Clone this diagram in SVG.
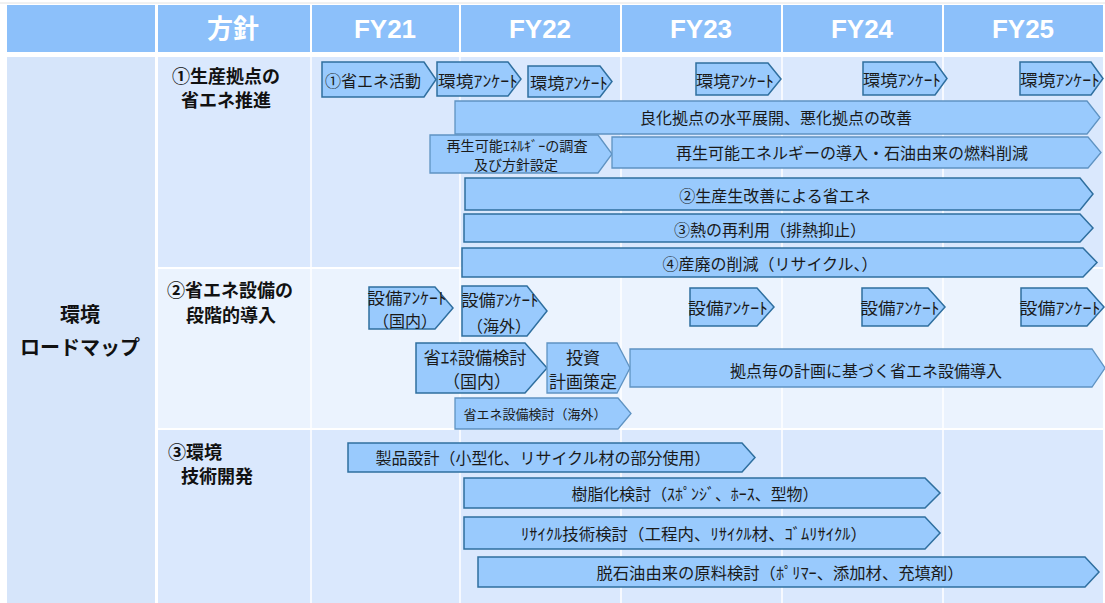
<svg xmlns="http://www.w3.org/2000/svg" width="1105" height="603" viewBox="0 0 1105 603">
<style>
.hd{fill:#8CC0FA}
.r1{fill:#DAE8FD}
.r2{fill:#EBF3FE}
.gl{stroke:#FFFFFF;stroke-width:1.5}
.ar{fill:#99CAFD;stroke:#2F6F9F;stroke-width:1.5}
.al{fill:#99CAFD;stroke:#5F93C2;stroke-width:1.3}
.ht{font-family:"Liberation Sans","Noto Sans CJK JP",sans-serif;font-weight:bold;font-size:26px;fill:#FFFFFF;text-anchor:middle;dominant-baseline:central}
.lb{font-family:"Noto Sans CJK JP","Liberation Sans",sans-serif;font-weight:bold;font-size:18px;fill:#111111}
.big{font-size:20px;text-anchor:middle;dominant-baseline:central}
.t{font-family:"Noto Sans CJK JP","Liberation Sans",sans-serif;font-size:16px;fill:#1A1A1A;text-anchor:middle;dominant-baseline:central}
.s{font-size:14px}
.m{font-size:17px}
.xs{font-size:13px}
</style>
<rect x="0" y="0" width="1105" height="603" fill="#FFFFFF"/>
<line x1="0" y1="3" x2="1105" y2="3" stroke="#E2E2E2" stroke-width="1"/>
<g id="header">
<rect class="hd" x="7" y="5" width="148" height="47"/>
<rect class="hd" x="158" y="5" width="152" height="47"/>
<rect class="hd" x="312" y="5" width="147" height="47"/>
<rect class="hd" x="461" y="5" width="159" height="47"/>
<rect class="hd" x="622" y="5" width="159" height="47"/>
<rect class="hd" x="783" y="5" width="159" height="47"/>
<rect class="hd" x="944" y="5" width="159" height="47"/>
<text class="ht" x="233" y="29">方針</text>
<text class="ht" x="385" y="29">FY21</text>
<text class="ht" x="540" y="29">FY22</text>
<text class="ht" x="701" y="29">FY23</text>
<text class="ht" x="862" y="29">FY24</text>
<text class="ht" x="1023" y="29">FY25</text>
</g>
<g id="body">
<rect x="7" y="57" width="148" height="546" fill="#D6E5FA"/>
<rect class="r1" x="158" y="57" width="945" height="210"/>
<rect class="r2" x="158" y="269" width="945" height="159"/>
<rect class="r1" x="158" y="430" width="945" height="173"/>
<line class="gl" x1="311" y1="57" x2="311" y2="603"/>
<line class="gl" x1="460" y1="57" x2="460" y2="603"/>
<line class="gl" x1="621" y1="57" x2="621" y2="603"/>
<line class="gl" x1="782" y1="57" x2="782" y2="603"/>
<line class="gl" x1="943" y1="57" x2="943" y2="603"/>
</g>
<g id="left-label">
<text class="lb big" x="80" y="313">環境</text>
<text class="lb big" x="80" y="346">ロードマップ</text>
</g>
<g id="row-labels">
<text class="lb" x="226" y="75" text-anchor="middle" dominant-baseline="central">①生産拠点の</text>
<text class="lb" x="226" y="99" text-anchor="middle" dominant-baseline="central">省エネ推進</text>
<text class="lb" x="230" y="289" text-anchor="middle" dominant-baseline="central">②省エネ設備の</text>
<text class="lb" x="231" y="314" text-anchor="middle" dominant-baseline="central">段階的導入</text>
<text class="lb" x="168" y="451" dominant-baseline="central">③環境</text>
<text class="lb" x="181" y="475" dominant-baseline="central">技術開発</text>
</g>
<g id="connectors"></g>
<g id="n1"><polygon class="ar" points="322,62 424,62 436,79.5 424,97 322,97"/><text class="t" x="373" y="80">①省エネ活動</text></g>
<g id="n2"><polygon class="ar" points="437,62 508,62 521,79 508,96 437,96"/><text class="t" x="478" y="80" textLength="80" lengthAdjust="spacingAndGlyphs">環境ｱﾝｹｰﾄ</text></g>
<g id="n3"><polygon class="ar" points="528,66 600,66 612,81.5 600,97 528,97"/><text class="t" x="569" y="82" textLength="78" lengthAdjust="spacingAndGlyphs">環境ｱﾝｹｰﾄ</text></g>
<g id="n4"><polygon class="ar" points="696,63 768,63 781,79 768,95 696,95"/><text class="t" x="735" y="80" textLength="78" lengthAdjust="spacingAndGlyphs">環境ｱﾝｹｰﾄ</text></g>
<g id="n5"><polygon class="ar" points="863,62 935,62 947,78.5 935,95 863,95"/><text class="t" x="902" y="79" textLength="78" lengthAdjust="spacingAndGlyphs">環境ｱﾝｹｰﾄ</text></g>
<g id="n6"><polygon class="ar" points="1020,62 1091,62 1103,78.5 1091,95 1020,95"/><text class="t" x="1060" y="79" textLength="80" lengthAdjust="spacingAndGlyphs">環境ｱﾝｹｰﾄ</text></g>
<g id="n7"><polygon class="al" points="455,101 1087,101 1100,117.5 1087,134 455,134"/><text class="t" x="776" y="117">良化拠点の水平展開、悪化拠点の改善</text></g>
<g id="n8"><polygon class="al" points="430,135 598,135 612,154 598,173 430,173"/><text class="t s" x="517" y="145" textLength="141" lengthAdjust="spacingAndGlyphs">再生可能ｴﾈﾙｷﾞｰの調査</text><text class="t s" x="516" y="164">及び方針設定</text></g>
<g id="n9"><polygon class="al" points="612,137 1088,137 1101,152.5 1088,168 612,168"/><text class="t" x="852" y="152">再生可能エネルギーの導入・石油由来の燃料削減</text></g>
<g id="n10"><polygon class="ar" points="465,178 1080,178 1093,194 1080,210 465,210"/><text class="t" x="775" y="195">②生産生改善による省エネ</text></g>
<g id="n11"><polygon class="ar" points="464,214 1080,214 1093,228 1080,242 464,242"/><text class="t" x="770" y="229">③熱の再利用（排熱抑止）</text></g>
<g id="n12"><polygon class="ar" points="462,248 1083,248 1097,262.5 1083,277 462,277"/><text class="t" x="770" y="263">④産廃の削減（リサイクル、）</text></g>
<g id="n13"><polygon class="ar" points="369,287 435,287 453,308 435,329 369,329"/><text class="t" x="407" y="297" textLength="79" lengthAdjust="spacingAndGlyphs">設備ｱﾝｹｰﾄ</text><text class="t" x="405" y="320">（国内）</text></g>
<g id="n14"><polygon class="ar" points="462,286 527,286 547,311 527,336 462,336"/><text class="t" x="500" y="299" textLength="77" lengthAdjust="spacingAndGlyphs">設備ｱﾝｹｰﾄ</text><text class="t" x="499" y="325">（海外）</text></g>
<g id="n15"><polygon class="ar" points="690,288 757,288 774,307 757,326 690,326"/><text class="t" x="728" y="307" textLength="80" lengthAdjust="spacingAndGlyphs">設備ｱﾝｹｰﾄ</text></g>
<g id="n16"><polygon class="ar" points="862,288 928,288 945,307 928,326 862,326"/><text class="t" x="900" y="307" textLength="79" lengthAdjust="spacingAndGlyphs">設備ｱﾝｹｰﾄ</text></g>
<g id="n17"><polygon class="ar" points="1021,288 1087,288 1104,307 1087,326 1021,326"/><text class="t" x="1060" y="307" textLength="81" lengthAdjust="spacingAndGlyphs">設備ｱﾝｹｰﾄ</text></g>
<g id="n18"><polygon class="ar" points="416,343 525,343 547,368 525,393 416,393"/><text class="t m" x="475" y="356" textLength="103" lengthAdjust="spacingAndGlyphs">省ｴﾈ設備検討</text><text class="t m" x="477" y="380">（国内）</text></g>
<g id="n19"><polygon class="al" points="547,343 617,343 630,368 617,393 547,393"/><text class="t m" x="583" y="356">投資</text><text class="t m" x="583" y="380">計画策定</text></g>
<g id="n20"><polygon class="al" points="630,349 1092,349 1105,368 1092,387 630,387"/><text class="t" x="866" y="370">拠点毎の計画に基づく省エネ設備導入</text></g>
<g id="n21"><polygon class="al" points="455,398 618,398 631,413.5 618,429 455,429"/><text class="t xs" x="535" y="413">省エネ設備検討（海外）</text></g>
<g id="n22"><polygon class="ar" points="348,443 742,443 755,457.5 742,472 348,472"/><text class="t" x="543" y="457">製品設計（小型化、リサイクル材の部分使用）</text></g>
<g id="n23"><polygon class="ar" points="464,478 925,478 940,493 925,508 464,508"/><text class="t" x="695" y="493" textLength="247" lengthAdjust="spacingAndGlyphs">樹脂化検討（ｽﾎﾟﾝｼﾞ、ﾎｰｽ、型物）</text></g>
<g id="n24"><polygon class="ar" points="464,517 925,517 940,533 925,549 464,549"/><text class="t" x="694" y="533" textLength="346" lengthAdjust="spacingAndGlyphs">ﾘｻｲｸﾙ技術検討（工程内、ﾘｻｲｸﾙ材、ｺﾞﾑﾘｻｲｸﾙ）</text></g>
<g id="n25"><polygon class="ar" points="478,557 1085,557 1099,572 1085,587 478,587"/><text class="t" x="780" y="572" textLength="367" lengthAdjust="spacingAndGlyphs">脱石油由来の原料検討（ﾎﾟﾘﾏｰ、添加材、充填剤）</text></g>
</svg>
